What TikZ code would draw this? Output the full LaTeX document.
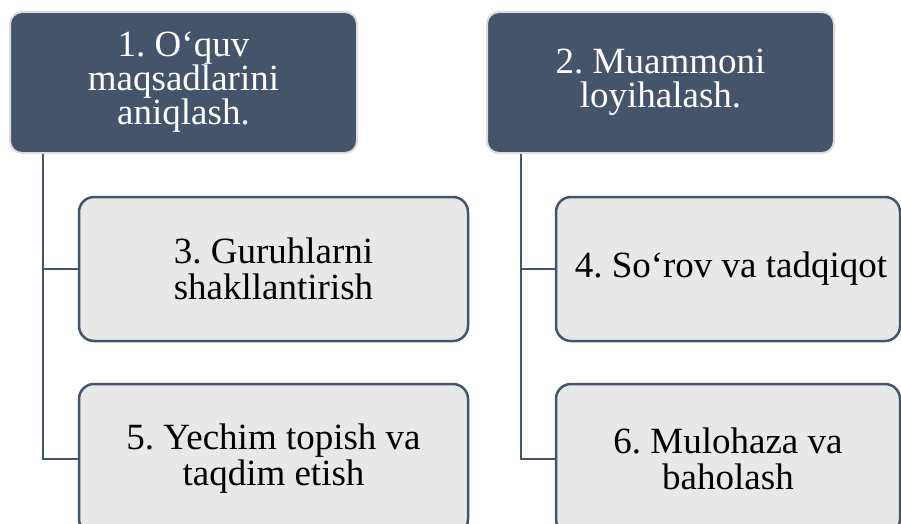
\documentclass[tikz,border=0pt]{standalone}
\usepackage{fontspec}
\setmainfont{Liberation Serif}
\newfontfamily\boxfont{Liberation Serif}
\frenchspacing
\definecolor{slate}{RGB}{68,84,106}
\definecolor{lightbox}{RGB}{232,232,232}
\definecolor{rimgray}{RGB}{220,220,220}
\begin{document}
\begin{tikzpicture}[x=1pt,y=-1pt,
  topbox/.style={draw=rimgray, line width=2pt, fill=slate, rounded corners=12pt,
    text=white, align=center, font=\boxfont\fontsize{37}{34}\selectfont, inner sep=0pt,
    minimum width=347pt, minimum height=141pt},
  childbox/.style={draw=slate, line width=2.5pt, fill=lightbox, rounded corners=15pt,
    text=black, align=center, font=\boxfont\fontsize{37}{36}\selectfont, inner sep=0pt},
  conn/.style={draw=slate, line width=2.5pt}]
\useasboundingbox (0,0) rectangle (901,524);
\clip (0,0) rectangle (901,524);
% top boxes
\node[topbox] (b1) at (183.5,82.5) {1. O‘quv\\maqsadlarini\\aniqlash.};
\node[topbox] (b2) at (660.5,82.5) {2. Muammoni\\loyihalash.};
% child boxes
\node[childbox, minimum width=389pt, minimum height=144pt] (b3) at (273.5,269) {3. Guruhlarni\\shakllantirish};
\node[childbox, minimum width=389pt, minimum height=150pt] (b5) at (273.5,459) {5. Yechim topish va\\taqdim etish};
\node[childbox, minimum width=344pt, minimum height=144pt] (b4) at (728,269) {\hspace*{6pt}4. So‘rov va tadqiqot};
\node[childbox, minimum width=344pt, minimum height=150pt] (b6) at (728,459) {6. Mulohaza va\\baholash};
% connectors
\draw[conn] (b1.south west) ++(34,0) |- (b3.west);
\draw[conn] (b1.south west) ++(34,0) |- (b5.west);
\draw[conn] (b2.south west) ++(35,0) |- (b4.west);
\draw[conn] (b2.south west) ++(35,0) |- (b6.west);
\end{tikzpicture}
\end{document}
